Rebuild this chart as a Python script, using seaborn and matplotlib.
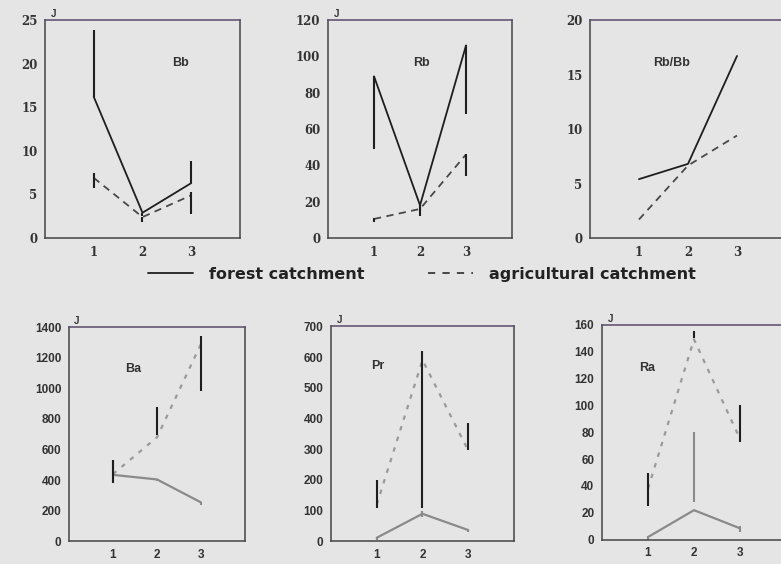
import numpy as np
import pandas as pd
import seaborn as sns
import matplotlib.pyplot as plt
from matplotlib.lines import Line2D

sns.set_style("white")
plt.rcParams['font.family'] = ['Liberation Sans', 'DejaVu Sans']

# sampling sites
sites = [1, 2, 3]

# panel names
names = ["Bb", "Rb", "Rb/Bb", "Ba", "Pr", "Ra"]

# mean values, forest and agricultural catchment
forest = {
    "Bb": [16.2, 2.9, 6.3],
    "Rb": [89, 18, 106],
    "Rb/Bb": [5.4, 6.8, 16.7],
    "Ba": [435, 405, 255],
    "Pr": [12, 90, 37],
    "Ra": [2, 22, 8.5],
}
agri = {
    "Bb": [6.9, 2.4, 4.9],
    "Rb": [10.5, 16, 46],
    "Rb/Bb": [1.7, 6.65, 9.4],
    "Ba": [440, 680, 1290],
    "Pr": [120, 590, 296],
    "Ra": [38, 149, 75],
}

# error bar ranges (low, high) for each site
forest_err = {
    "Bb": [(16.2, 23.8), (2.5, 2.9), (6.3, 8.8)],
    "Rb": [(49, 89), (15, 18), (68, 106)],
    "Ba": [(380, 530), (395, 410), (240, 260)],
    "Pr": [(5, 12), (80, 100), (30, 40)],
    "Ra": [(0, 3), (28, 80), (6, 10)],
}
agri_err = {
    "Bb": [(5.7, 7.5), (1.8, 2.4), (2.7, 5.3)],
    "Rb": [(9, 11), (12, 18), (34, 46)],
    "Ba": [(385, 535), (694, 876), (985, 1345)],
    "Pr": [(110, 200), (110, 620), (296, 385)],
    "Ra": [(25, 50), (150, 155), (73, 100)],
}

# y axis ranges and ticks
ylims = {"Bb": 25, "Rb": 120, "Rb/Bb": 20, "Ba": 1400, "Pr": 700, "Ra": 160}
ysteps = {"Bb": 5, "Rb": 20, "Rb/Bb": 5, "Ba": 200, "Pr": 100, "Ra": 20}

# axes rectangles in figure fractions
rects = {
    "Bb": [0.0576, 0.578, 0.2497, 0.3865],
    "Rb": [0.420, 0.578, 0.2356, 0.3865],
    "Rb/Bb": [0.7554, 0.578, 0.2510, 0.3865],
    "Ba": [0.0883, 0.040, 0.2254, 0.3800],
    "Pr": [0.4238, 0.040, 0.2343, 0.3815],
    "Ra": [0.7708, 0.043, 0.2356, 0.3815],
}
label_pos = {
    "Bb": (0.65, 0.79), "Rb": (0.46, 0.79), "Rb/Bb": (0.32, 0.79),
    "Ba": (0.32, 0.79), "Pr": (0.22, 0.80), "Ra": (0.20, 0.785),
}

bg = "#e5e5e5"
fig = plt.figure(figsize=(7.81, 5.64), dpi=100, facecolor=bg)

for i, name in enumerate(names):
    top = i < 3
    ax = fig.add_axes(rects[name], facecolor=bg)
    df = pd.DataFrame({
        "site": sites * 2,
        "value": forest[name] + agri[name],
        "catchment": ["forest"] * 3 + ["agricultural"] * 3,
    })
    if top:
        pal = {"forest": "#1e1e1e", "agricultural": "#484848"}
        dash = (4, 3)
    else:
        pal = {"forest": "#8a8a8a", "agricultural": "#9a9a9a"}
        dash = (2, 3)
    sns.lineplot(data=df, x="site", y="value", hue="catchment", style="catchment",
                 palette=pal, dashes={"forest": "", "agricultural": dash},
                 lw=1.3 if top else 1.6, legend=False, ax=ax)
    if name in forest_err:
        ecol = "#1e1e1e"
        lo = [e[0] for e in forest_err[name]]
        hi = [e[1] for e in forest_err[name]]
        ax.vlines(sites, lo, hi, color=ecol if top else "#8a8a8a", lw=1.5)
        lo = [e[0] for e in agri_err[name]]
        hi = [e[1] for e in agri_err[name]]
        ax.vlines(sites, lo, hi, color=ecol, lw=1.5)
    ax.set_xlim(0, 4)
    ax.set_ylim(0, ylims[name])
    ax.set_xticks(sites)
    ax.set_yticks(np.arange(0, ylims[name] + 1, ysteps[name]))
    ax.set_xlabel("")
    ax.set_ylabel("")
    fam = ['DejaVu Serif'] if top else ['Liberation Sans', 'DejaVu Sans']
    for lab in ax.get_xticklabels() + ax.get_yticklabels():
        lab.set_family(fam)
        lab.set_fontweight("bold")
        lab.set_fontsize(8.5)
        lab.set_color("#333333")
    ax.tick_params(axis="both", direction="out", length=3, width=1, color="#444444", pad=2.5)
    for s in ax.spines.values():
        s.set_color("#444444")
        s.set_linewidth(1.1)
    ax.spines["top"].set_color("#5a4a6a")
    ax.text(label_pos[name][0], label_pos[name][1], name, transform=ax.transAxes,
            fontsize=9, fontweight="bold", color="#333333")
    if name != "Rb/Bb":
        ax.text(0.03, 1.005, "J", transform=ax.transAxes, fontsize=7,
                fontweight="bold", color="#333333", va="bottom")

handles = [Line2D([], [], color="#1e1e1e", lw=1.3),
           Line2D([], [], color="#3a3a3a", lw=1.3, dashes=(4, 4))]
fig.legend(handles, ["forest catchment", "agricultural catchment"],
           loc="center", bbox_to_anchor=(0.540, 0.514), ncol=2, frameon=False,
           handlelength=2.8, columnspacing=4.0, handletextpad=1.0,
           prop={"family": "DejaVu Sans", "weight": "bold", "size": 11.5},
           labelcolor="#222222")

fig.savefig("out.png", dpi=100, facecolor=bg)
